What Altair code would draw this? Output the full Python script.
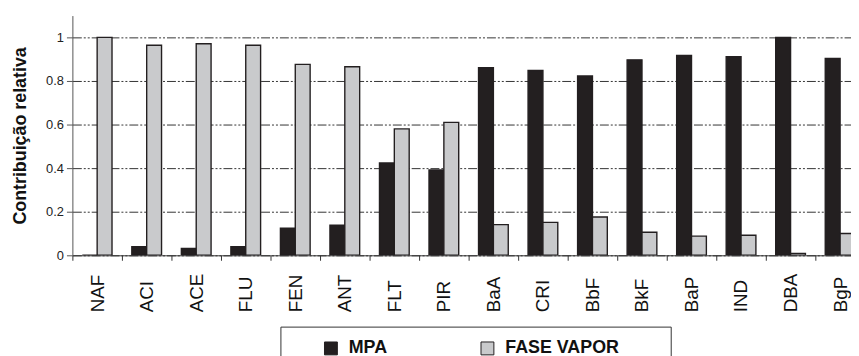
import altair as alt
import pandas as pd

compounds = ["NAF", "ACI", "ACE", "FLU", "FEN", "ANT", "FLT", "PIR",
             "BaA", "CRI", "BbF", "BkF", "BaP", "IND", "DBA", "BgP"]
mpa = [0.0, 0.04, 0.032, 0.04, 0.124, 0.138, 0.424, 0.392,
       0.861, 0.848, 0.823, 0.897, 0.917, 0.911, 1.0, 0.903]
fase_vapor = [1.0, 0.964, 0.971, 0.964, 0.876, 0.865, 0.580, 0.610,
              0.141, 0.151, 0.176, 0.106, 0.088, 0.092, 0.009, 0.100]
series = ["MPA", "FASE VAPOR"]
y_ticks = [0, 0.2, 0.4, 0.6, 0.8, 1]

rows = []
for c, m, v in zip(compounds, mpa, fase_vapor):
    rows.append({"comp": c, "serie": series[0], "valor": m})
    rows.append({"comp": c, "serie": series[1], "valor": v})
df = pd.DataFrame(rows)

font = "Liberation Sans, Arial, sans-serif"
narrow = "Liberation Sans Narrow, Arial Narrow, Liberation Sans, Arial, sans-serif"
blank = "\u2800"

chart = alt.Chart(df).mark_bar(stroke="#231f20", strokeWidth=1.4, clip=True).encode(
    x=alt.X(
        "comp:N", sort=compounds, title=None,
        scale=alt.Scale(range=[0, 800], paddingInner=0.4, paddingOuter=0.2),
        axis=alt.Axis(
            labelAngle=270, labelAlign="left", labelBaseline="middle",
            labelPadding=52, tickOffset=-25, labelOffset=25, tickSize=5,
            labelFontSize=19, labelFont=font, labelColor="#111",
            domainColor="#333", tickColor="#333", grid=False,
        ),
    ),
    xOffset=alt.XOffset(
        "serie:N", sort=series,
        scale=alt.Scale(domain=series, paddingInner=0, paddingOuter=0),
    ),
    y=alt.Y(
        "valor:Q", title="Contribuição relativa",
        scale=alt.Scale(domain=[0, 1.1], nice=False),
        axis=alt.Axis(
            values=y_ticks, format="~g",
            labelFontSize=13, labelFont=narrow, labelColor="#222",
            labelPadding=3, tickSize=6, tickColor="#555", domainColor="#555",
            gridColor="#333", gridDash=[9, 2, 2, 2, 2, 2], gridWidth=1,
            titleFont=font, titleFontSize=18, titleFontWeight="bold",
            titleColor="#111", titlePadding=16,
        ),
    ),
    color=alt.Color(
        "serie:N", sort=series,
        scale=alt.Scale(domain=series, range=["#231f20", "#c9cacc"]),
        legend=alt.Legend(
            title="\u00a0", titleOrient="left", titleFontSize=18,
            titleFontWeight="bold", titlePadding=29,
            orient="none", legendX=210, legendY=314, direction="horizontal",
            symbolType="square", symbolSize=169, symbolStrokeColor="#231f20",
            symbolStrokeWidth=1, symbolOpacity=1,
            labelFont=font, labelFontSize=18, labelFontWeight="bold",
            labelColor="#111", labelOffset=9, columnPadding=92,
            labelLimit=300,
            labelExpr="datum.label == 'FASE VAPOR' ? datum.label + '" + blank * 3 + "' : datum.label",
            padding=13, strokeColor="#333", fillColor="white",
        ),
    ),
).properties(
    width=786, height=242,
    padding={"left": 65, "top": 6, "right": 0, "bottom": 100},
    autosize=alt.AutoSizeParams(type="none"),
    background="white",
).configure_view(strokeWidth=0)

chart.save("out.html", embed_options={"renderer": "svg", "actions": False})
